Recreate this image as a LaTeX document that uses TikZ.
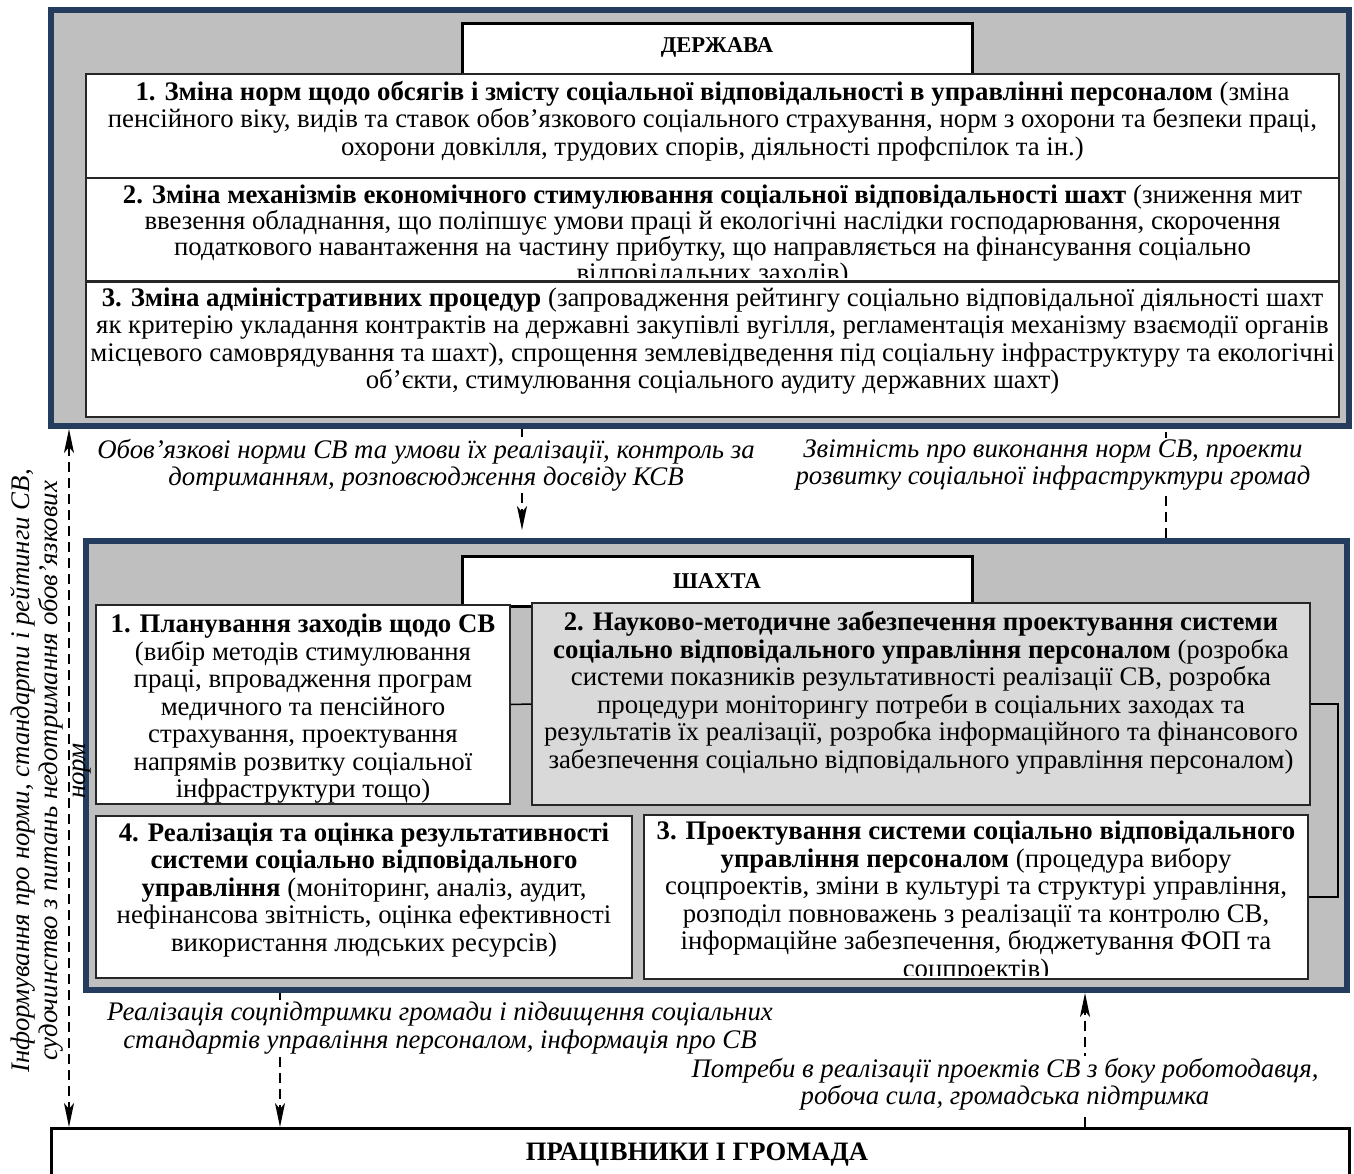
\documentclass[tikz,border=0pt]{standalone}
\usepackage{fontspec}
\setmainfont{Liberation Serif}
\usetikzlibrary{arrows.meta,calc}
\definecolor{navy}{RGB}{36,60,94}
\definecolor{panel}{RGB}{191,191,191}
\definecolor{lightpanel}{RGB}{217,217,217}
\begin{document}
\begin{tikzpicture}[x=0.5pt,y=-0.5pt,
  font=\fontsize{13.4}{13.75}\selectfont,
  outerbox/.style={draw=navy,line width=3pt,fill=panel,inner sep=0pt},
  titlebox/.style={draw=black,line width=1.5pt,fill=white,inner sep=0pt,font=\fontsize{11.3}{13.75}\selectfont\bfseries},
  itembox/.style={draw=black!85,line width=0.75pt,fill=white,inner sep=0pt},
  itemtext/.style={align=center,inner sep=0pt},
  flow/.style={line width=1pt,dash pattern=on 5pt off 3pt},
  headarr/.style={-{Stealth[length=12pt,width=5pt,inset=3pt]}},
  bothhead/.style={{Stealth[length=12pt,width=5pt,inset=3pt]}-{Stealth[length=12pt,width=5pt,inset=3pt]}},
  lbl/.style={align=center,fill=white,inner sep=1pt,font=\fontsize{13.4}{13.6}\selectfont\itshape},
  joinline/.style={draw=black,line width=0.75pt}
]
\useasboundingbox (0,0) rectangle (1354,1173);
\clip (0,0) rectangle (1354,1173);
\fill[white] (0,0) rectangle (1354,1173);

% ---------- DERZHAVA ----------
\node[outerbox,minimum width=649pt,minimum height=208pt] (state) at (700,218) {};
\node[titlebox,minimum width=255pt,minimum height=26.5pt] (statetitle) at (717,49.5) {};
\node[inner sep=0pt,font=\fontsize{11.3}{13.75}\selectfont\bfseries] (statelabel) at (717,47) {ДЕРЖАВА};
\node[itembox,minimum width=626.5pt,minimum height=52pt] (s1) at (712.5,126) {};
\node[itembox,minimum width=626.5pt,minimum height=51.5pt] (s2) at (712.5,229.5) {};
\node[itembox,minimum width=626.5pt,minimum height=68pt] (s3) at (712.5,349) {};

\node[itemtext] (s1t) at (712.5,121) {\textbf{1. Зміна норм щодо обсягів і змісту соціальної відповідальності в управлінні персоналом} (зміна\\
пенсійного віку, видів та ставок обов’язкового соціального страхування, норм з охорони та безпеки праці,\\
охорони довкілля, трудових спорів, діяльності профспілок та ін.)};

\begin{scope}
\clip ([shift={(1,1)}]s2.north west) rectangle ($(s2.south east)+(-1,-4)$);
\node[itemtext,font=\fontsize{13.4}{13}\selectfont] (s2t) at (712.5,236) {\textbf{2. Зміна механізмів економічного стимулювання соціальної відповідальності шахт} (зниження мит\\
ввезення обладнання, що поліпшує умови праці й екологічні наслідки господарювання, скорочення\\
податкового навантаження на частину прибутку, що направляється на фінансування соціально\\
відповідальних заходів)};
\end{scope}
\draw[draw=black!85,line width=0.75pt] (s2.south west) -- (s2.south east);

\node[itemtext] (s3t) at (712.5,341) {\textbf{3. Зміна адміністративних процедур} (запровадження рейтингу соціально відповідальної діяльності шахт\\
як критерію укладання контрактів на державні закупівлі вугілля, регламентація механізму взаємодії органів\\
місцевого самоврядування та шахт), спрощення землевідведення під соціальну інфраструктуру та екологічні\\
об’єкти, стимулювання соціального аудиту державних шахт)};

% ---------- SHAKHTA ----------
\node[outerbox,minimum width=630.5pt,minimum height=224.5pt] (mine) at (716.5,765.5) {};
\node[titlebox,minimum width=255pt,minimum height=25pt] (minetitle) at (717,581) {ШАХТА};
\node[itembox,minimum width=207pt,minimum height=99.5pt] (m1) at (303,704.5) {};
\node[itembox,fill=lightpanel,minimum width=389pt,minimum height=101pt] (m2) at (921,704) {};
\node[itembox,minimum width=268pt,minimum height=81pt] (m4) at (364,897) {};
\node[itembox,minimum width=332pt,minimum height=82pt] (m3) at (976,897) {};

\draw[joinline] (m1.east) -- (m2.west);
\coordinate (bend) at (1338,704);
\draw[joinline] (m2.east) -- (m2.east -| bend) |- (m3.east);

\node[itemtext] (m1t) at (303,709) {\textbf{1. Планування заходів щодо СВ}\\
(вибір методів стимулювання\\
праці, впровадження програм\\
медичного та пенсійного\\
страхування, проектування\\
напрямів розвитку соціальної\\
інфраструктури тощо)};

\node[itemtext] (m2t) at (921,693) {\textbf{2. Науково-методичне забезпечення проектування системи}\\
\textbf{соціально відповідального управління персоналом} (розробка\\
системи показників результативності реалізації СВ, розробка\\
процедури моніторингу потреби в соціальних заходах та\\
результатів їх реалізації, розробка інформаційного та фінансового\\
забезпечення соціально відповідального управління персоналом)};

\node[itemtext] (m4t) at (364,890) {\textbf{4. Реалізація та оцінка результативності}\\
\textbf{системи соціально відповідального}\\
\textbf{управління} (моніторинг, аналіз, аудит,\\
нефінансова звітність, оцінка ефективності\\
використання людських ресурсів)};

\begin{scope}
\clip ([shift={(1,1)}]m3.north west) rectangle ($(m3.south east)+(-1,-4)$);
\node[itemtext] (m3t) at (976,902) {\textbf{3. Проектування системи соціально відповідального}\\
\textbf{управління персоналом} (процедура вибору\\
соцпроектів, зміни в культурі та структурі управління,\\
розподіл повноважень з реалізації та контролю СВ,\\
інформаційне забезпечення, бюджетування ФОП та\\
соцпроектів)};
\end{scope}

% ---------- WORKERS ----------
\node[draw=black,line width=1.5pt,fill=white,inner sep=0pt,minimum width=649pt,minimum height=26.5pt] (work) at (700,1155) {};
\node[inner sep=0pt,font=\fontsize{13.3}{13.75}\selectfont\bfseries] (worklabel) at (697,1155) {ПРАЦІВНИКИ І ГРОМАДА};

% ---------- connectors ----------
\coordinate (xl) at (69,0);
\coordinate (xm) at (522,0);
\coordinate (xr) at (1166,0);
\coordinate (xbm) at (280,0);
\coordinate (xbr) at (1085,0);

\draw[flow,bothhead] (state.south -| xl) -- (work.north -| xl);
\draw[flow,headarr,shorten >=4pt] (state.south -| xm) -- (mine.north -| xm);
\draw[flow] (mine.north -| xr) -- (state.south -| xr);
\draw[flow,headarr] (mine.south -| xbm) -- (work.north -| xbm);
\draw[flow,headarr] (work.north -| xbr) -- (mine.south -| xbr);

% ---------- labels ----------
\node[lbl] (lab1) at (426,465) {Обов’язкові норми СВ та умови їх реалізації, контроль за\\ дотриманням, розповсюдження досвіду КСВ};
\node[lbl] (lab2) at (1053,465) {Звітність про виконання норм СВ, проекти\\ розвитку соціальної інфраструктури громад};
\node[lbl] (lab3) at (440,1028) {Реалізація соцпідтримки громади і підвищення соціальних\\ стандартів управління персоналом, інформація про СВ};
\node[lbl] (lab4) at (1005,1084) {Потреби в реалізації проектів СВ з боку роботодавця,\\ робоча сила, громадська підтримка};
\node[align=center,inner sep=0pt,rotate=90,font=\fontsize{13.4}{14}\selectfont\itshape] (lab5) at (51,771) {Інформування про норми, стандарти і рейтинги СВ,\\ судочинство з питань недотримання обов’язкових\\ норм};
\end{tikzpicture}
\end{document}
